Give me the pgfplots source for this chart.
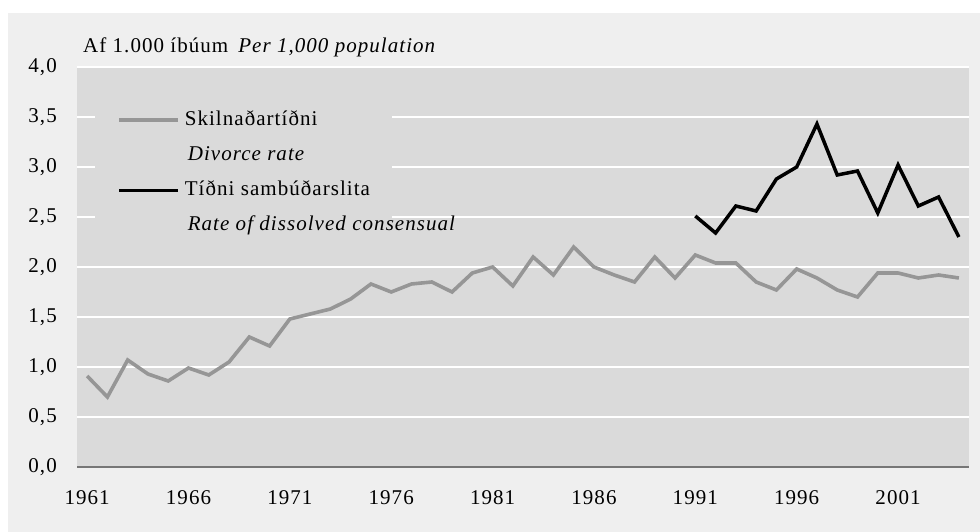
\documentclass[border=0pt]{standalone}
\usepackage{pgfplots}
\pgfplotsset{compat=1.18}
\usepackage{pgfplotstable}
\usepackage{fontspec}
\setmainfont[LetterSpace=5]{Liberation Serif}
\definecolor{outerbg}{RGB}{239,239,239}
\definecolor{plotbg}{RGB}{218,218,218}
\definecolor{divgray}{RGB}{150,150,150}
\definecolor{axisgray}{RGB}{118,118,118}

\pgfplotstableread{
year rate
1961 0.91
1962 0.70
1963 1.07
1964 0.93
1965 0.86
1966 0.99
1967 0.92
1968 1.05
1969 1.30
1970 1.21
1971 1.48
1972 1.53
1973 1.58
1974 1.68
1975 1.83
1976 1.75
1977 1.83
1978 1.85
1979 1.75
1980 1.94
1981 2.00
1982 1.81
1983 2.10
1984 1.92
1985 2.20
1986 2.00
1987 1.92
1988 1.85
1989 2.10
1990 1.89
1991 2.12
1992 2.04
1993 2.04
1994 1.85
1995 1.77
1996 1.98
1997 1.89
1998 1.77
1999 1.70
2000 1.94
2001 1.94
2002 1.89
2003 1.92
2004 1.89
}\divorce

\pgfplotstableread{
year rate
1991 2.51
1992 2.34
1993 2.61
1994 2.56
1995 2.88
1996 3.00
1997 3.43
1998 2.92
1999 2.96
2000 2.54
2001 3.02
2002 2.61
2003 2.70
2004 2.30
}\consensual

\begin{document}
\fontsize{21}{25}\selectfont
\begin{tikzpicture}
\fill[white] (0pt,0pt) rectangle (980pt,532pt);
\fill[outerbg] (8pt,0pt) rectangle (980pt,519pt);
\begin{axis}[
  at={(77pt,65pt)}, anchor=south west,
  scale only axis, width=892pt, height=400pt,
  xmin=1960.5, xmax=2004.5, ymin=0, ymax=4,
  xtick={1961,1966,1971,1976,1981,1986,1991,1996,2001},
  ytick={0,0.5,1,1.5,2,2.5,3,3.5,4},
  /pgf/number format/assume math mode=true,
  xticklabel style={/pgf/number format/1000 sep={}, inner sep=0pt, anchor=north, yshift=-23pt},
  yticklabel style={/pgf/number format/fixed, /pgf/number format/fixed zerofill,
    /pgf/number format/precision=1, /pgf/number format/use comma,
    inner sep=0pt, anchor=east, xshift=-20pt},
  major tick length=0pt,
  tick style={draw=none},
  axis background/.style={fill=plotbg},
  axis x line*=bottom,
  axis y line*=left,
  x axis line style={-, draw=axisgray, line width=1.8pt},
  y axis line style={draw=none},
  ymajorgrids,
  grid style={white, line width=1.5pt},
  title={Af 1.000 íbúum\hspace{10pt}\textit{Per 1,000 population}},
  title style={at={(0,1)}, anchor=base west, xshift=6pt, yshift=8pt, inner sep=0pt},
  legend style={at={(0.0202,0.916)}, anchor=north west, fill=plotbg, draw=none,
    inner xsep=22pt, inner ysep=10pt, row sep=16pt, column sep=5pt,
    nodes={inner sep=0pt, text height=15pt, text depth=4pt, anchor=west}},
  legend cell align=left,
  legend image code/.code={\draw[#1] (0pt,0pt) -- (59pt,0pt);},
]
\addplot[divgray, line width=3.6pt] table[x=year, y=rate] {\divorce};
\addlegendentry{Skilnaðartíðni}
\addlegendimage{empty legend}
\addlegendentry{\hspace{3pt}\textit{Divorce rate}}
\addplot[black, line width=3.5pt] table[x=year, y=rate] {\consensual};
\addlegendentry{Tíðni sambúðarslita}
\addlegendimage{empty legend}
\addlegendentry{\hspace{3pt}\rlap{\textit{Rate of dissolved consensual}}}
\end{axis}
\end{tikzpicture}
\end{document}
